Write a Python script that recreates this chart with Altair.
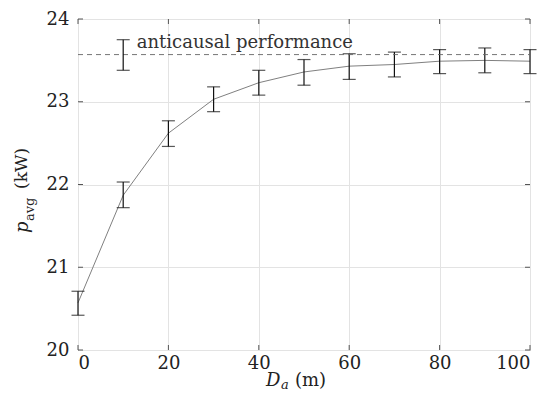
import altair as alt
import pandas as pd

# ---- data ----
D = [0, 10, 20, 30, 40, 50, 60, 70, 80, 90, 100]
p_mean = [20.57, 21.87, 22.62, 23.03, 23.23, 23.36, 23.43, 23.45, 23.49, 23.50, 23.49]
p_lo = [20.42, 21.72, 22.46, 22.88, 23.08, 23.20, 23.27, 23.30, 23.34, 23.35, 23.34]
p_hi = [20.71, 22.03, 22.77, 23.18, 23.38, 23.51, 23.58, 23.60, 23.63, 23.65, 23.63]

anti_D = [10]
anti_mean = [23.57]
anti_lo = [23.38]
anti_hi = [23.75]
anti_label = ["anticausal performance"]
anti_label_pos = [(13, 23.71)]

x_ticks = [0, 20, 40, 60, 80, 100]
y_ticks = [20, 21, 22, 23, 24]

W, H = 452, 331
FONT = "DejaVu Serif"

main = pd.DataFrame({"D": D, "p": p_mean, "lo": p_lo, "hi": p_hi})
anti = pd.DataFrame({"D": anti_D, "p": anti_mean, "lo": anti_lo, "hi": anti_hi})
anti_line = pd.DataFrame({"x0": [x_ticks[0]], "x1": [x_ticks[-1]], "p": anti_mean})
lab = pd.DataFrame({"D": [anti_label_pos[0][0]], "p": [anti_label_pos[0][1]], "t": anti_label})
xt = pd.DataFrame({"v": x_ticks})
yt = pd.DataFrame({"v": y_ticks})

xs = alt.Scale(domain=[0, 100], nice=False)
ys = alt.Scale(domain=[20, 24], nice=False)

xax = alt.Axis(values=x_ticks, title=None, grid=True, gridColor="#e3e3e3", ticks=False,
               domain=False, labelFont=FONT, labelFontSize=18, labelColor="#222",
               labelPadding=4, format="d")
yax = alt.Axis(values=y_ticks, title=None, grid=True, gridColor="#e3e3e3", ticks=False,
               domain=False, labelFont=FONT, labelFontSize=18, labelColor="#222",
               labelPadding=9, format="d")

base = alt.Chart(main)
line = base.mark_line(color="#808080", strokeWidth=1).encode(
    x=alt.X("D:Q", scale=xs, axis=xax),
    y=alt.Y("p:Q", scale=ys, axis=yax),
)
bars = base.mark_rule(color="#111", strokeWidth=1.2).encode(
    x="D:Q", y="lo:Q", y2="hi:Q")
cap_lo = base.mark_tick(color="#111", size=13, thickness=1.2, orient="horizontal").encode(
    x="D:Q", y="lo:Q")
cap_hi = base.mark_tick(color="#111", size=13, thickness=1.2, orient="horizontal").encode(
    x="D:Q", y="hi:Q")

abase = alt.Chart(anti)
a_bar = abase.mark_rule(color="#111", strokeWidth=1.2).encode(x="D:Q", y="lo:Q", y2="hi:Q")
a_lo = abase.mark_tick(color="#111", size=13, thickness=1.2, orient="horizontal").encode(
    x="D:Q", y="lo:Q")
a_hi = abase.mark_tick(color="#111", size=13, thickness=1.2, orient="horizontal").encode(
    x="D:Q", y="hi:Q")
a_dash = alt.Chart(anti_line).mark_rule(color="#666", strokeWidth=0.9, strokeDash=[5, 4]).encode(
    x="x0:Q", x2="x1:Q", y="p:Q")
a_text = alt.Chart(lab).mark_text(font=FONT, fontSize=18, align="left", baseline="middle",
                                  color="#333").encode(x="D:Q", y="p:Q", text="t:N")

# inward ticks on all four sides
tick_col = "#555"
xt_b = alt.Chart(xt).mark_rule(color=tick_col, strokeWidth=1).encode(
    x="v:Q", y=alt.value(H), y2=alt.value(H - 5))
xt_t = alt.Chart(xt).mark_rule(color=tick_col, strokeWidth=1).encode(
    x="v:Q", y=alt.value(0), y2=alt.value(5))
yt_l = alt.Chart(yt).mark_rule(color=tick_col, strokeWidth=1).encode(
    y="v:Q", x=alt.value(0), x2=alt.value(5))
yt_r = alt.Chart(yt).mark_rule(color=tick_col, strokeWidth=1).encode(
    y="v:Q", x=alt.value(W), x2=alt.value(W - 5))

# axis titles as text pieces (italic symbol + subscript)
one = pd.DataFrame({"k": [0]})
def txt(s, x, y, size, style=None, angle=0):
    kw = dict(font=FONT, fontSize=size, align="left",
              baseline="alphabetic", color="#222", text=s)
    if style:
        kw["fontStyle"] = style
    if angle:
        kw["angle"] = angle
    return alt.Chart(one).mark_text(**kw).encode(x=alt.value(x), y=alt.value(y))

titles = [
    txt("D", 188, 367, 18, "italic"),
    txt("a", 203, 370, 13, "italic"),
    txt("(m)", 217, 367, 18),
    txt("p", -50, 214, 18, "italic", 270),
    txt("avg", -44, 202, 13, None, 270),
    txt("(kW)", -51, 170, 17, None, 270),
]

chart = alt.layer(
    line, bars, cap_lo, cap_hi, a_dash, a_bar, a_lo, a_hi, a_text,
    xt_b, xt_t, yt_l, yt_r, *titles
).properties(
    width=W, height=H,
    autosize=alt.AutoSizeParams(type="none"),
    padding={"left": 70, "top": 11, "right": 16, "bottom": 41},
    background="white",
).configure(font=FONT).configure_view(stroke="#444", strokeWidth=1)

chart.save("out.html", embed_options={"renderer": "svg", "actions": False})
